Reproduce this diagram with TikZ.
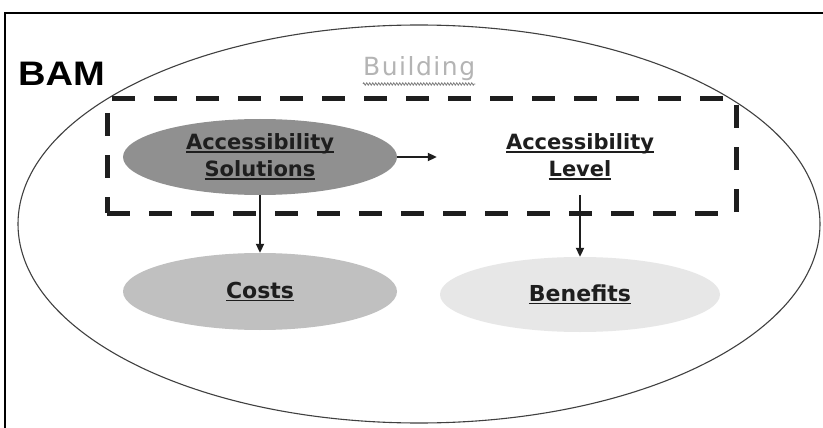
\documentclass[tikz,border=0pt]{standalone}
\usepackage{fontspec}
\setmainfont{DejaVu Sans}
\newfontfamily\bamfont{Liberation Sans}
\newfontfamily\bldfont[LetterSpace=6]{DejaVu Sans}
\usetikzlibrary{arrows.meta,shapes.geometric,decorations.pathmorphing}
\definecolor{txt}{HTML}{1E1E1E}
\definecolor{solfill}{HTML}{909090}
\definecolor{costfill}{HTML}{C0C0C0}
\definecolor{benfill}{HTML}{E7E7E7}
\definecolor{bldgray}{HTML}{B4B4B4}
\definecolor{outline}{HTML}{404040}
\newsavebox\ulbox
\newcommand{\ulword}[1]{\sbox\ulbox{#1}\rlap{\color{txt}\rule[-3pt]{\wd\ulbox}{1.5pt}}\usebox\ulbox}
\tikzset{
  oval/.style={ellipse, inner sep=0pt, minimum width=274pt, minimum height=76pt,
    align=center, text=txt, font=\bfseries\fontsize{21}{27}\selectfont},
  arr/.style={line width=2pt, draw=txt, -{Triangle[length=9pt,width=8pt]}},
  dashbox/.style={draw=txt, line width=5pt, dash pattern=on 23pt off 19pt, inner sep=0pt},
}
\begin{document}
\begin{tikzpicture}[x=1pt,y=-1pt]
\useasboundingbox (0,0) rectangle (823,428);
\fill[white] (0,0) rectangle (823,428);
\begin{scope}
\clip (0,0) rectangle (823,428);
\draw[line width=2pt] (5,13) rectangle (850,460);
\end{scope}
% big ellipse
\node[ellipse, draw=outline, line width=1.1pt, minimum width=802pt, minimum height=398pt, inner sep=0pt] (bam) at (419,224) {};
% labels
\node[anchor=base west, inner sep=0pt, font=\bamfont\bfseries\fontsize{34}{34}\selectfont, text=black, xscale=1.12] (bamlbl) at (18,86) {BAM};
\node[anchor=base west, inner sep=0pt, font=\bldfont\fontsize{25}{25}\selectfont, text=bldgray] (bld) at (363,76) {Building};
\coordinate (wa) at ([yshift=-8pt]bld.base west);
\coordinate (wb) at ([yshift=-8pt]bld.base east);
\draw[gray, line width=0.8pt, decorate, decoration={zigzag, amplitude=1.2pt, segment length=3pt}] (wa) -- (wb);
% dashed group
\node[dashbox, minimum width=629pt, minimum height=114pt] (grp) at (421.5,156) {};
% ovals
\node[oval, fill=solfill] (sol) at (260,157) {\ulword{Accessibility}\\\ulword{Solutions}};
\node[oval, minimum width=280pt] (lvl) at (580,157) {\ulword{Accessibility}\\\ulword{Level}};
\node[oval, fill=costfill, minimum width=274pt, minimum height=77pt, font=\bfseries\fontsize{22}{27}\selectfont] (costs) at (260,291.5) {\ulword{Costs}};
\node[oval, fill=benfill, minimum width=280pt, minimum height=75pt, font=\bfseries\fontsize{22}{27}\selectfont] (ben) at (580,294.5) {\ulword{Benefits}};
% arrows
\draw[arr, shorten >=3pt] (sol.east) -- (lvl.west);
\draw[arr] (sol.south) -- (costs.north);
\draw[arr] (lvl.south) -- (ben.north);
\end{tikzpicture}
\end{document}
